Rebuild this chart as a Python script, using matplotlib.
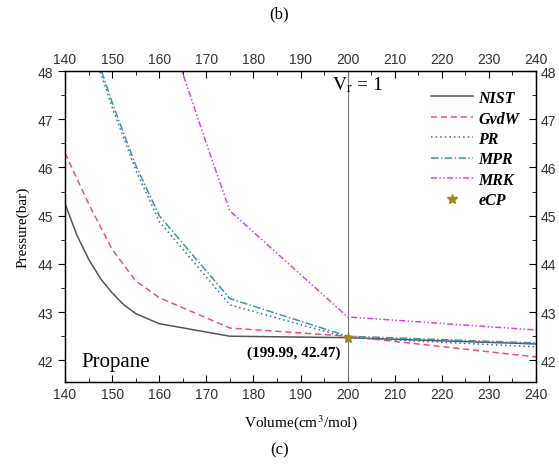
import numpy as np
import matplotlib
matplotlib.use("Agg")
import matplotlib.pyplot as plt
from matplotlib.ticker import MultipleLocator

plt.rcParams['mathtext.fontset'] = 'stix'

# valeurs
v_nist = [140, 142.5, 145, 147.5, 150, 152.5, 155, 160, 175, 200, 240]
p_nist = [45.25, 44.6, 44.1, 43.7, 43.4, 43.15, 42.97, 42.76, 42.5, 42.47, 42.34]

v_gvdw = [140, 145, 150, 155, 160, 175, 200, 240]
p_gvdw = [46.3, 45.25, 44.3, 43.65, 43.3, 42.67, 42.5, 42.07]

v_pr = [145, 150, 155, 160, 175, 200, 240]
p_pr = [48.7, 47.25, 45.95, 44.88, 43.15, 42.47, 42.28]

v_mpr = [145, 150, 155, 160, 175, 200, 240]
p_mpr = [48.8, 47.35, 46.05, 45.0, 43.28, 42.5, 42.36]

v_mrk = [160, 165, 170, 175, 200, 240]
p_mrk = [49.6, 47.95, 46.5, 45.1, 42.9, 42.63]

ecp = (199.99, 42.47)

xticks = [140, 150, 160, 170, 180, 190, 200, 210, 220, 230, 240]
yticks = [42, 43, 44, 45, 46, 47, 48]

fig = plt.figure(figsize=(5.59, 4.77), dpi=100)
ax = fig.add_axes([0.1163, 0.197, 0.8426, 0.652])

ax.plot(v_nist, p_nist, color='#555555', lw=1.1, label='NIST')
ax.plot(v_gvdw, p_gvdw, color='#f0506a', lw=1.1, ls=(0, (4, 2.5)), label='GvdW')
ax.plot(v_pr, p_pr, color='#4a5fc0', lw=1.1, ls=(0, (1, 2)), label='PR')
ax.plot(v_mpr, p_mpr, color='#3a9a9a', lw=1.1, ls=(0, (5, 1.5, 1, 1.5)), label='MPR')
ax.plot(v_mrk, p_mrk, color='#e040e0', lw=1.1, ls=(0, (4, 1.5, 1, 1.5, 1, 1.5)), label='MRK')
ax.plot([ecp[0]], [ecp[1]], ls='none', marker='*', ms=7, color='#9a8a20', label='eCP', zorder=5)

ax.axvline(200, color='#777777', lw=0.8)

ax.set_xlim(140, 240)
ax.set_ylim(41.55, 48)
ax.set_xticks(xticks)
ax.set_yticks(yticks)
ax.xaxis.set_minor_locator(MultipleLocator(5))
ax.yaxis.set_minor_locator(MultipleLocator(0.5))
ax.tick_params(which='both', top=True, right=True, labeltop=True, labelright=True,
               labelsize=10, labelcolor='#333333')
ax.tick_params(axis='x', which='both', direction='in')
ax.tick_params(axis='y', which='both', direction='out', right=False)
ax.tick_params(which='major', length=5)
ax.tick_params(which='minor', length=3)
for s in ax.spines.values():
    s.set_linewidth(1.0)

# ticks vers l'interieur a droite
ax2 = ax.twinx()
ax2.set_ylim(ax.get_ylim())
ax2.set_yticks(yticks)
ax2.yaxis.set_minor_locator(MultipleLocator(0.5))
ax2.tick_params(which='both', direction='in', labelsize=10, labelcolor='#333333')
ax2.tick_params(which='major', length=5)
ax2.tick_params(which='minor', length=3)
ax.tick_params(labelright=False)

for lab in ax.get_xticklabels() + ax.get_yticklabels() + ax2.get_yticklabels():
    lab.set_family('Liberation Sans')

ax.set_xlabel('Volume(cm$^3$/mol)', family='Liberation Serif', fontsize=11, labelpad=8)
ax.set_ylabel('Pressure(bar)', family='Liberation Serif', fontsize=11, labelpad=6)

ax.text(196.6, 47.72, r'$\mathrm{V_r}$ = 1', family='Liberation Serif', fontsize=14,
        va='center', ha='left')
ax.text(143.5, 41.98, 'Propane', family='Liberation Serif', fontsize=15, va='center')
ax.text(198.5, 42.17, '(199.99, 42.47)', family='Liberation Serif', fontsize=11,
        fontweight='bold', ha='right', va='center')

leg = ax.legend(loc='upper right', bbox_to_anchor=(0.995, 0.985), frameon=False,
                handlelength=2.6, labelspacing=0.28, handletextpad=0.35,
                prop={'family': 'Liberation Serif', 'style': 'italic',
                      'weight': 'bold', 'size': 11.5})

fig.text(0.5, 0.97, '(b)', family='Liberation Serif', fontsize=12, ha='center', va='center')
fig.text(0.5, 0.055, '(c)', family='Liberation Serif', fontsize=12, ha='center', va='center')

fig.savefig('out.png', dpi=100)
